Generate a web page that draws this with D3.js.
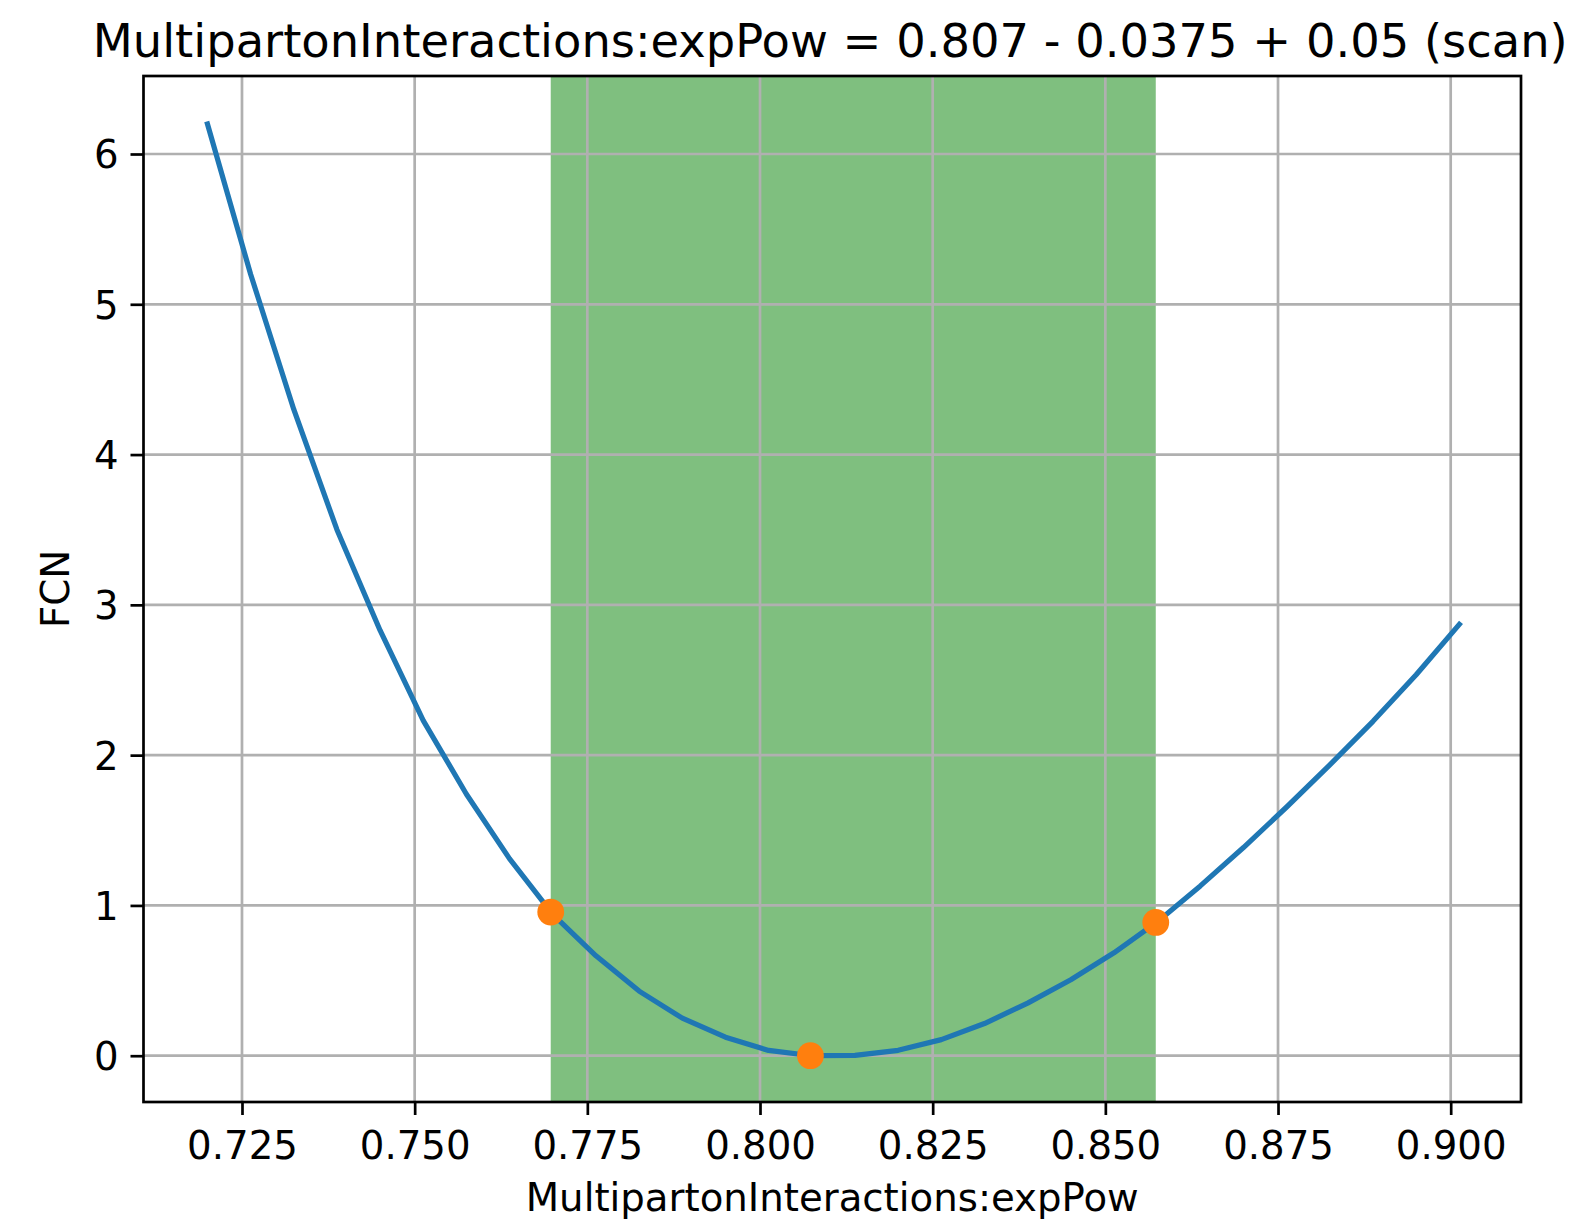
<!DOCTYPE html>
<html>
<head>
<meta charset="utf-8">
<script src="https://cdn.jsdelivr.net/npm/d3@7"></script>
<style>
  html, body { margin: 0; padding: 0; background: #ffffff; }
  svg { display: block; font-family: "DejaVu Sans", sans-serif; }
</style>
</head>
<body>
<svg id="chart" width="1577" height="1224"></svg>
<script>
// Scan of the fit parameter: parameter value vs. FCN
const scanX = [0.72000, 0.72625, 0.73250, 0.73875, 0.74500, 0.75125, 0.75750, 0.76375,
               0.77000, 0.77625, 0.78250, 0.78875, 0.79500, 0.80125, 0.80750, 0.81375,
               0.82000, 0.82625, 0.83250, 0.83875, 0.84500, 0.85125, 0.85750, 0.86375,
               0.87000, 0.87625, 0.88250, 0.88875, 0.89500, 0.90125];
const scanFCN = [6.20, 5.20, 4.30, 3.50, 2.83, 2.23, 1.74, 1.31,
                 0.94, 0.665, 0.43, 0.25, 0.123, 0.035, 0.0, 0.002,
                 0.036, 0.107, 0.214, 0.35, 0.505, 0.685, 0.89, 1.13,
                 1.385, 1.655, 1.935, 2.225, 2.535, 2.87];

// Best-fit value and its lower / upper crossings
const markX = [0.7697, 0.8073, 0.8573];
const markFCN = [0.956, 0.0, 0.887];

// Interval band (central value - lower error, + upper error)
const bandLow = 0.7697;
const bandHigh = 0.8573;

// Tick labels
const xTicks = [0.725, 0.750, 0.775, 0.800, 0.825, 0.850, 0.875, 0.900];
const yTicks = [0, 1, 2, 3, 4, 5, 6];

const titleText = "MultipartonInteractions:expPow = 0.807 - 0.0375 + 0.05 (scan)";
const xLabelText = "MultipartonInteractions:expPow";
const yLabelText = "FCN";

// Plot-area frame
const plotL = 143.5, plotR = 1521, plotT = 76, plotB = 1102;
const xDomain = [0.71074, 0.91018];
const yDomain = [-0.308, 6.519];

const svg = d3.select("#chart");
const x = d3.scaleLinear().domain(xDomain).range([plotL, plotR]);
const y = d3.scaleLinear().domain(yDomain).range([plotB, plotT]);

const gridColor = "#b0b0b0";
const gridW = 2.7;
const spineW = 2.7;

// Interval band
svg.append("rect")
  .attr("x", x(bandLow))
  .attr("y", plotT)
  .attr("width", x(bandHigh) - x(bandLow))
  .attr("height", plotB - plotT)
  .attr("fill", "green")
  .attr("fill-opacity", 0.5);

// Grid
const grid = svg.append("g");
grid.selectAll("line.vx").data(xTicks).enter().append("line")
  .attr("x1", d => x(d)).attr("x2", d => x(d))
  .attr("y1", plotT).attr("y2", plotB)
  .attr("stroke", gridColor).attr("stroke-width", gridW);
grid.selectAll("line.hy").data(yTicks).enter().append("line")
  .attr("x1", plotL).attr("x2", plotR)
  .attr("y1", d => y(d)).attr("y2", d => y(d))
  .attr("stroke", gridColor).attr("stroke-width", gridW);

// Scan curve
const pts = scanX.map((v, i) => [v, scanFCN[i]]);
svg.append("path")
  .datum(pts)
  .attr("d", d3.line().x(d => x(d[0])).y(d => y(d[1])))
  .attr("fill", "none")
  .attr("stroke", "#1f77b4")
  .attr("stroke-width", 5.2)
  .attr("stroke-linecap", "square")
  .attr("stroke-linejoin", "round");

// Markers
svg.selectAll("circle.mark").data(markX).enter().append("circle")
  .attr("cx", d => x(d))
  .attr("cy", (d, i) => y(markFCN[i]))
  .attr("r", 13.4)
  .attr("fill", "#ff7f0e");

// Axes (ticks + labels)
const fontPx = 38.7;
const xAxis = d3.axisBottom(x).tickValues(xTicks)
  .tickFormat(d3.format(".3f")).tickSize(13).tickPadding(12);
const yAxis = d3.axisLeft(y).tickValues(yTicks)
  .tickFormat(d3.format("d")).tickSize(13).tickPadding(12);

const gx = svg.append("g").attr("transform", `translate(0,${plotB})`).call(xAxis);
const gy = svg.append("g").attr("transform", `translate(${plotL},0)`).call(yAxis);
[gx, gy].forEach(g => {
  g.select(".domain").remove();
  g.selectAll(".tick line").attr("stroke", "#000").attr("stroke-width", spineW);
  g.selectAll(".tick text")
    .attr("fill", "#000")
    .style("font-family", "'DejaVu Sans', sans-serif")
    .style("font-size", fontPx + "px");
});
gx.selectAll(".tick text").attr("dy", null).attr("y", 57);
gy.selectAll(".tick text").attr("dy", null).attr("y", 14);

// Spines
svg.append("rect")
  .attr("x", plotL).attr("y", plotT)
  .attr("width", plotR - plotL).attr("height", plotB - plotT)
  .attr("fill", "none").attr("stroke", "#000").attr("stroke-width", spineW);

// Title and axis labels
svg.append("text")
  .attr("x", (plotL + plotR) / 2 - 2).attr("y", 57)
  .attr("text-anchor", "middle")
  .style("font-size", "46.4px")
  .text(titleText);

svg.append("text")
  .attr("x", (plotL + plotR) / 2).attr("y", 1211)
  .attr("text-anchor", "middle")
  .style("font-size", fontPx + "px")
  .text(xLabelText);

svg.append("text")
  .attr("transform", `translate(69,${(plotT + plotB) / 2}) rotate(-90)`)
  .attr("text-anchor", "middle")
  .style("font-size", fontPx + "px")
  .text(yLabelText);
</script>
</body>
</html>
